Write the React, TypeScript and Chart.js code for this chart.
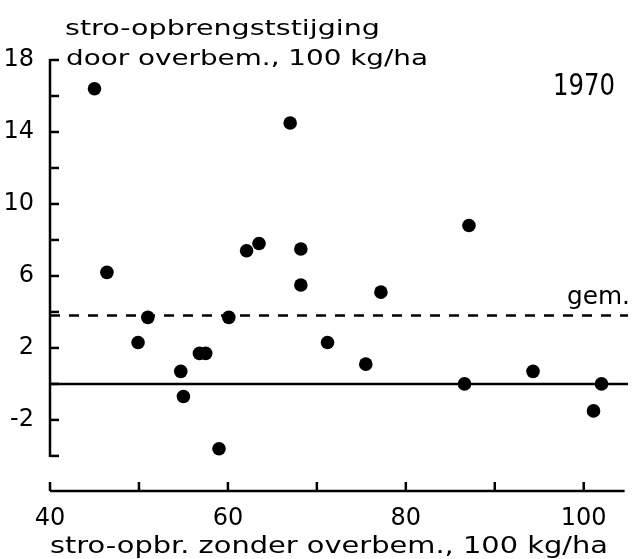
import React, { useEffect, useRef } from "react";
import { Chart, registerables } from "chart.js";

Chart.register(...registerables);

// ---- data ----
const xValues = [45.0, 46.4, 51.0, 49.9, 56.8, 57.5, 54.7, 55.0, 59.0, 60.1, 62.1, 63.5, 67.0, 68.2, 68.2, 71.2, 75.5, 77.2, 86.6, 87.1, 94.3, 101.1, 102.0];
const yValues = [16.4, 6.2, 3.7, 2.3, 1.7, 1.7, 0.7, -0.7, -3.6, 3.7, 7.4, 7.8, 14.5, 7.5, 5.5, 2.3, 1.1, 5.1, 0.0, 8.8, 0.7, -1.5, 0.0];
const MEAN = 3.8;
const ZERO = 0;

const X_MIN = 40;
const X_MAX = 105;
const X_AXIS_END = 104.6;
const Y_MIN = -5.95;
const Y_MAX = 18;
const Y_AXIS_START = -4;

const yLabelValues = [18, 14, 10, 6, 2, -2];
const xLabelValues = [40, 60, 80, 100];

const yTitle = ["stro-opbrengststijging", "door overbem., 100 kg/ha"];
const xTitle = "stro-opbr. zonder overbem., 100 kg/ha";
const yearLabel = "1970";
const meanLabel = "gem.";

const FONT = '"DejaVu Sans", sans-serif';

function fitText(ctx: CanvasRenderingContext2D, text: string, x: number, y: number, size: number, width: number) {
  ctx.save();
  ctx.font = `${size}px ${FONT}`;
  ctx.textAlign = "left";
  ctx.textBaseline = "alphabetic";
  const w = ctx.measureText(text).width;
  ctx.translate(x, y);
  ctx.scale(width / w, 1);
  ctx.fillStyle = "#000";
  ctx.fillText(text, 0, 0);
  ctx.restore();
}

const decorPlugin = {
  id: "decor",
  beforeDatasetsDraw(chart: any) {
    const { ctx, chartArea, scales } = chart;
    const xs = scales.x;
    const ys = scales.y;
    ctx.save();
    ctx.strokeStyle = "#000";
    ctx.lineWidth = 2.5;
    ctx.lineCap = "butt";
    const left = xs.getPixelForValue(X_MIN);
    const bottom = chartArea.bottom;
    // y axis
    ctx.beginPath();
    ctx.moveTo(left, ys.getPixelForValue(Y_AXIS_START) + 1);
    ctx.lineTo(left, ys.getPixelForValue(Y_MAX) - 1);
    ctx.stroke();
    ys.ticks.forEach((t: any) => {
      if (Number.isInteger(t.value) && t.value >= Y_AXIS_START && t.value <= Y_MAX) {
        const py = ys.getPixelForValue(t.value);
        ctx.beginPath();
        ctx.moveTo(left, py);
        ctx.lineTo(left + 9, py);
        ctx.stroke();
      }
    });
    // x axis
    ctx.beginPath();
    ctx.moveTo(left, bottom);
    ctx.lineTo(xs.getPixelForValue(X_AXIS_END), bottom);
    ctx.stroke();
    xs.ticks.forEach((t: any) => {
      if (t.value % 10 === 0 && t.value <= 100) {
        const px = xs.getPixelForValue(t.value);
        ctx.beginPath();
        ctx.moveTo(px, bottom);
        ctx.lineTo(px, bottom - 9);
        ctx.stroke();
      }
    });
    ctx.restore();
  },
  afterDraw(chart: any) {
    const { ctx, scales } = chart;
    fitText(ctx, yTitle[0], 65, 35, 21, 315);
    fitText(ctx, yTitle[1], 66, 65, 21, 362);
    fitText(ctx, yearLabel, 553, 95, 31, 62);
    const my = scales.y.getPixelForValue(MEAN);
    fitText(ctx, meanLabel, 567, my - 12, 25, 63);
    fitText(ctx, xTitle, 50, 553, 23, 558);
  },
};

export default function App() {
  const ref = useRef<HTMLCanvasElement | null>(null);
  useEffect(() => {
    document.body.style.margin = "0";
    const canvas = ref.current;
    if (!canvas) return;
    const points = xValues.map((x, i) => ({ x, y: yValues[i] }));
    const chart = new Chart(canvas, {
      type: "scatter",
      data: {
        datasets: [
          {
            label: "punten",
            data: points,
            backgroundColor: "#000",
            borderWidth: 0,
            pointRadius: 6.8,
            order: 0,
          },
          {
            label: "nul",
            type: "line",
            data: [{ x: X_MIN, y: ZERO }, { x: X_MAX, y: ZERO }],
            borderColor: "#000",
            borderWidth: 2.5,
            pointRadius: 0,
            showLine: true,
            order: 2,
          } as any,
          {
            label: "gem.",
            type: "line",
            data: [{ x: X_MIN, y: MEAN }, { x: X_MAX, y: MEAN }],
            borderColor: "#000",
            borderWidth: 2.5,
            borderDash: [10, 9],
            pointRadius: 0,
            showLine: true,
            order: 2,
          } as any,
        ],
      },
      options: {
        responsive: false,
        animation: false,
        devicePixelRatio: 1,
        layout: { padding: { top: 60, right: 2, left: 0, bottom: 0 } },
        plugins: { legend: { display: false }, tooltip: { enabled: false }, title: { display: false } },
        scales: {
          x: {
            type: "linear",
            min: X_MIN,
            max: X_MAX,
            grid: { display: false },
            border: { display: false },
            ticks: {
              stepSize: 10,
              includeBounds: false,
              autoSkip: false,
              maxRotation: 0,
              padding: 5,
              color: "#000",
              font: { family: FONT, size: 24 },
              callback: (v: any) => (xLabelValues.includes(Number(v)) ? String(v) : ""),
            },
            afterFit: (s: any) => {
              s.height = 68;
            },
          },
          y: {
            type: "linear",
            min: Y_MIN,
            max: Y_MAX,
            grid: { display: false },
            border: { display: false },
            ticks: {
              stepSize: 2,
              includeBounds: false,
              maxTicksLimit: 30,
              autoSkip: false,
              padding: 8,
              color: "#000",
              font: { family: FONT, size: 24 },
              callback: (v: any) => (yLabelValues.includes(Number(v)) ? String(v) : ""),
            },
            afterFit: (s: any) => {
              s.width = 50;
            },
          },
        },
      },
      plugins: [decorPlugin],
    });
    return () => chart.destroy();
  }, []);
  return (
    <div style={{ width: 635, height: 559, background: "#fff" }}>
      <canvas ref={ref} width={635} height={559} style={{ display: "block" }} />
    </div>
  );
}
